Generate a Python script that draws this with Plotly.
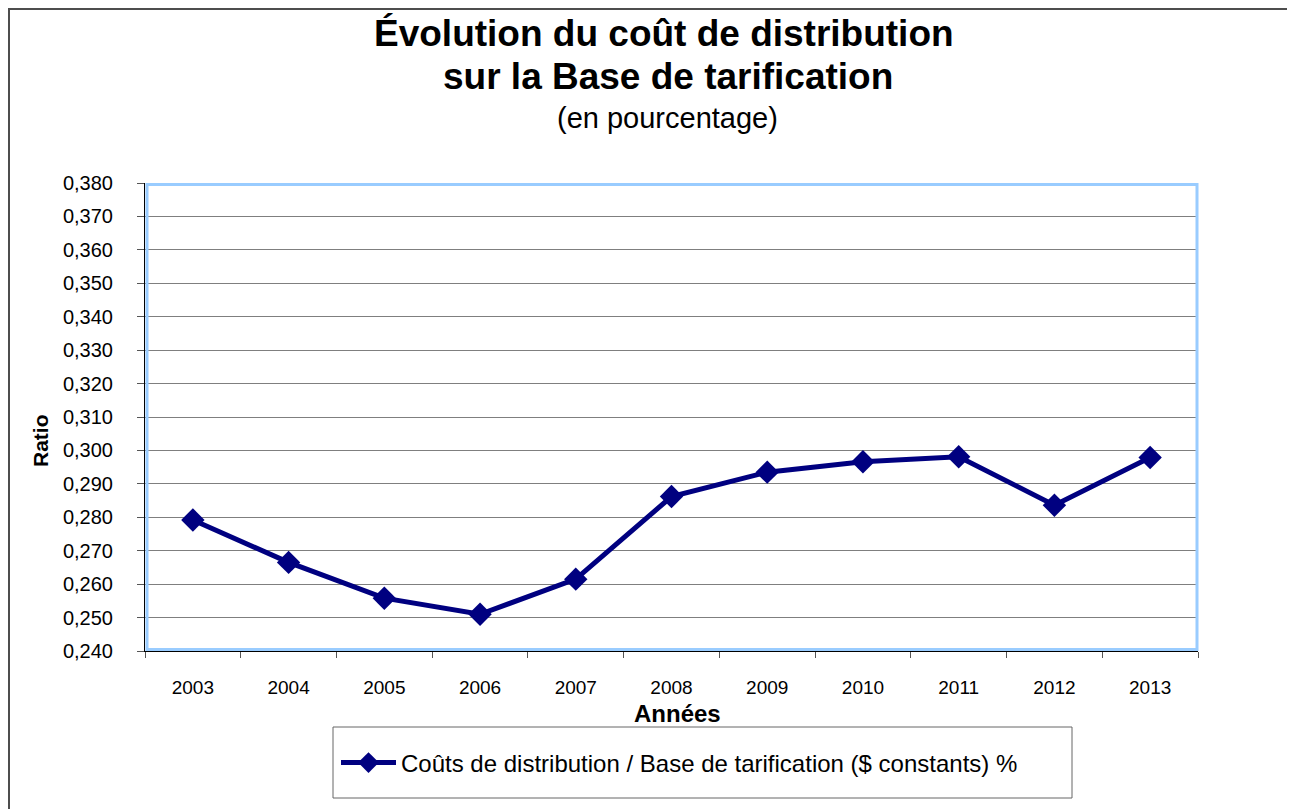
import plotly.graph_objects as go

years = ["2003", "2004", "2005", "2006", "2007", "2008", "2009", "2010", "2011", "2012", "2013"]
ratio = [0.2792, 0.2665, 0.2558, 0.2510, 0.2615, 0.2862, 0.2935, 0.2966, 0.2981, 0.2836, 0.2979]
series_name = "Coûts de distribution / Base de tarification ($ constants) %"
y_ticks = [0.24 + 0.01 * i for i in range(15)]

# page has an 8px body margin; figure sized to fit the 1295x809 window
OFF = 8
W, H = 1295 - OFF, 809 - OFF
# plot area in screen pixels
SL, SR, ST, SB = 145, 1198, 183, 651
L, R, T, B = SL - OFF, SR - OFF, ST - OFF, SB - OFF


def px(x):
    return (x - SL) / (SR - SL)


def py(y):
    return (SB - y) / (SB - ST)


FONT = "Liberation Sans, Arial, sans-serif"

fig = go.Figure()
fig.add_trace(go.Scatter(
    x=years, y=ratio, mode="lines+markers", name=series_name,
    line=dict(color="#000080", width=5),
    marker=dict(symbol="diamond", size=18, color="#000080"),
    showlegend=True,
))

fig.update_layout(
    width=W, height=H,
    margin=dict(l=L, r=W - R, t=T, b=H - B, pad=0),
    paper_bgcolor="white", plot_bgcolor="white",
    separators=", ",
    font=dict(family=FONT, color="black", size=19),
    showlegend=True,
    legend=dict(
        x=px(336), y=py(763), xanchor="left", yanchor="middle",
        bgcolor="rgba(0,0,0,0)", borderwidth=0,
        font=dict(size=24, family=FONT), itemwidth=55,
    ),
    xaxis=dict(
        type="category", range=[-0.5, 10.5],
        showgrid=False, showline=True, linecolor="black", linewidth=1,
        ticks="outside", ticklen=6, tickcolor="#555", tickson="boundaries",
        tickfont=dict(size=19), ticklabelstandoff=19,
        fixedrange=True,
    ),
    yaxis=dict(
        range=[0.24, 0.38], tickvals=y_ticks, tickformat=".3f",
        showgrid=True, gridcolor="#7f7f7f", gridwidth=1,
        showline=True, linecolor="black", linewidth=1,
        ticks="outside", ticklen=7, tickcolor="#555",
        tickfont=dict(size=20), ticklabelstandoff=20,
        zeroline=False, fixedrange=True,
    ),
)

shapes = [
    # outer chart border
    dict(type="rect", xref="paper", yref="paper",
         x0=px(9), x1=px(1320), y0=py(830), y1=py(9),
         line=dict(color="#4d4d4d", width=2), layer="below"),
    # plot area border
    dict(type="rect", xref="paper", yref="paper",
         x0=px(147), x1=px(1197), y0=py(649.5), y1=py(184.5),
         line=dict(color="#99CCFF", width=3), layer="above"),
    # legend box
    dict(type="rect", xref="paper", yref="paper",
         x0=px(333), x1=px(1072), y0=py(798), y1=py(727),
         line=dict(color="#666666", width=1), layer="below"),
]
fig.update_layout(shapes=shapes)

annotations = [
    dict(text="<b>Évolution du coût de distribution</b>", x=px(664), y=py(33),
         font=dict(size=37)),
    dict(text="<b>sur la Base de tarification</b>", x=px(668), y=py(77),
         font=dict(size=37)),
    dict(text="(en pourcentage)", x=px(667), y=py(118), font=dict(size=29)),
    dict(text="<b>Années</b>", x=px(677), y=py(713), font=dict(size=24)),
    dict(text="<b>Ratio</b>", x=px(40), y=py(441), font=dict(size=21), textangle=-90),
]
for a in annotations:
    a.update(xref="paper", yref="paper", xanchor="center", yanchor="middle",
             showarrow=False)
fig.update_layout(annotations=annotations)

fig.write_html("out.html")
